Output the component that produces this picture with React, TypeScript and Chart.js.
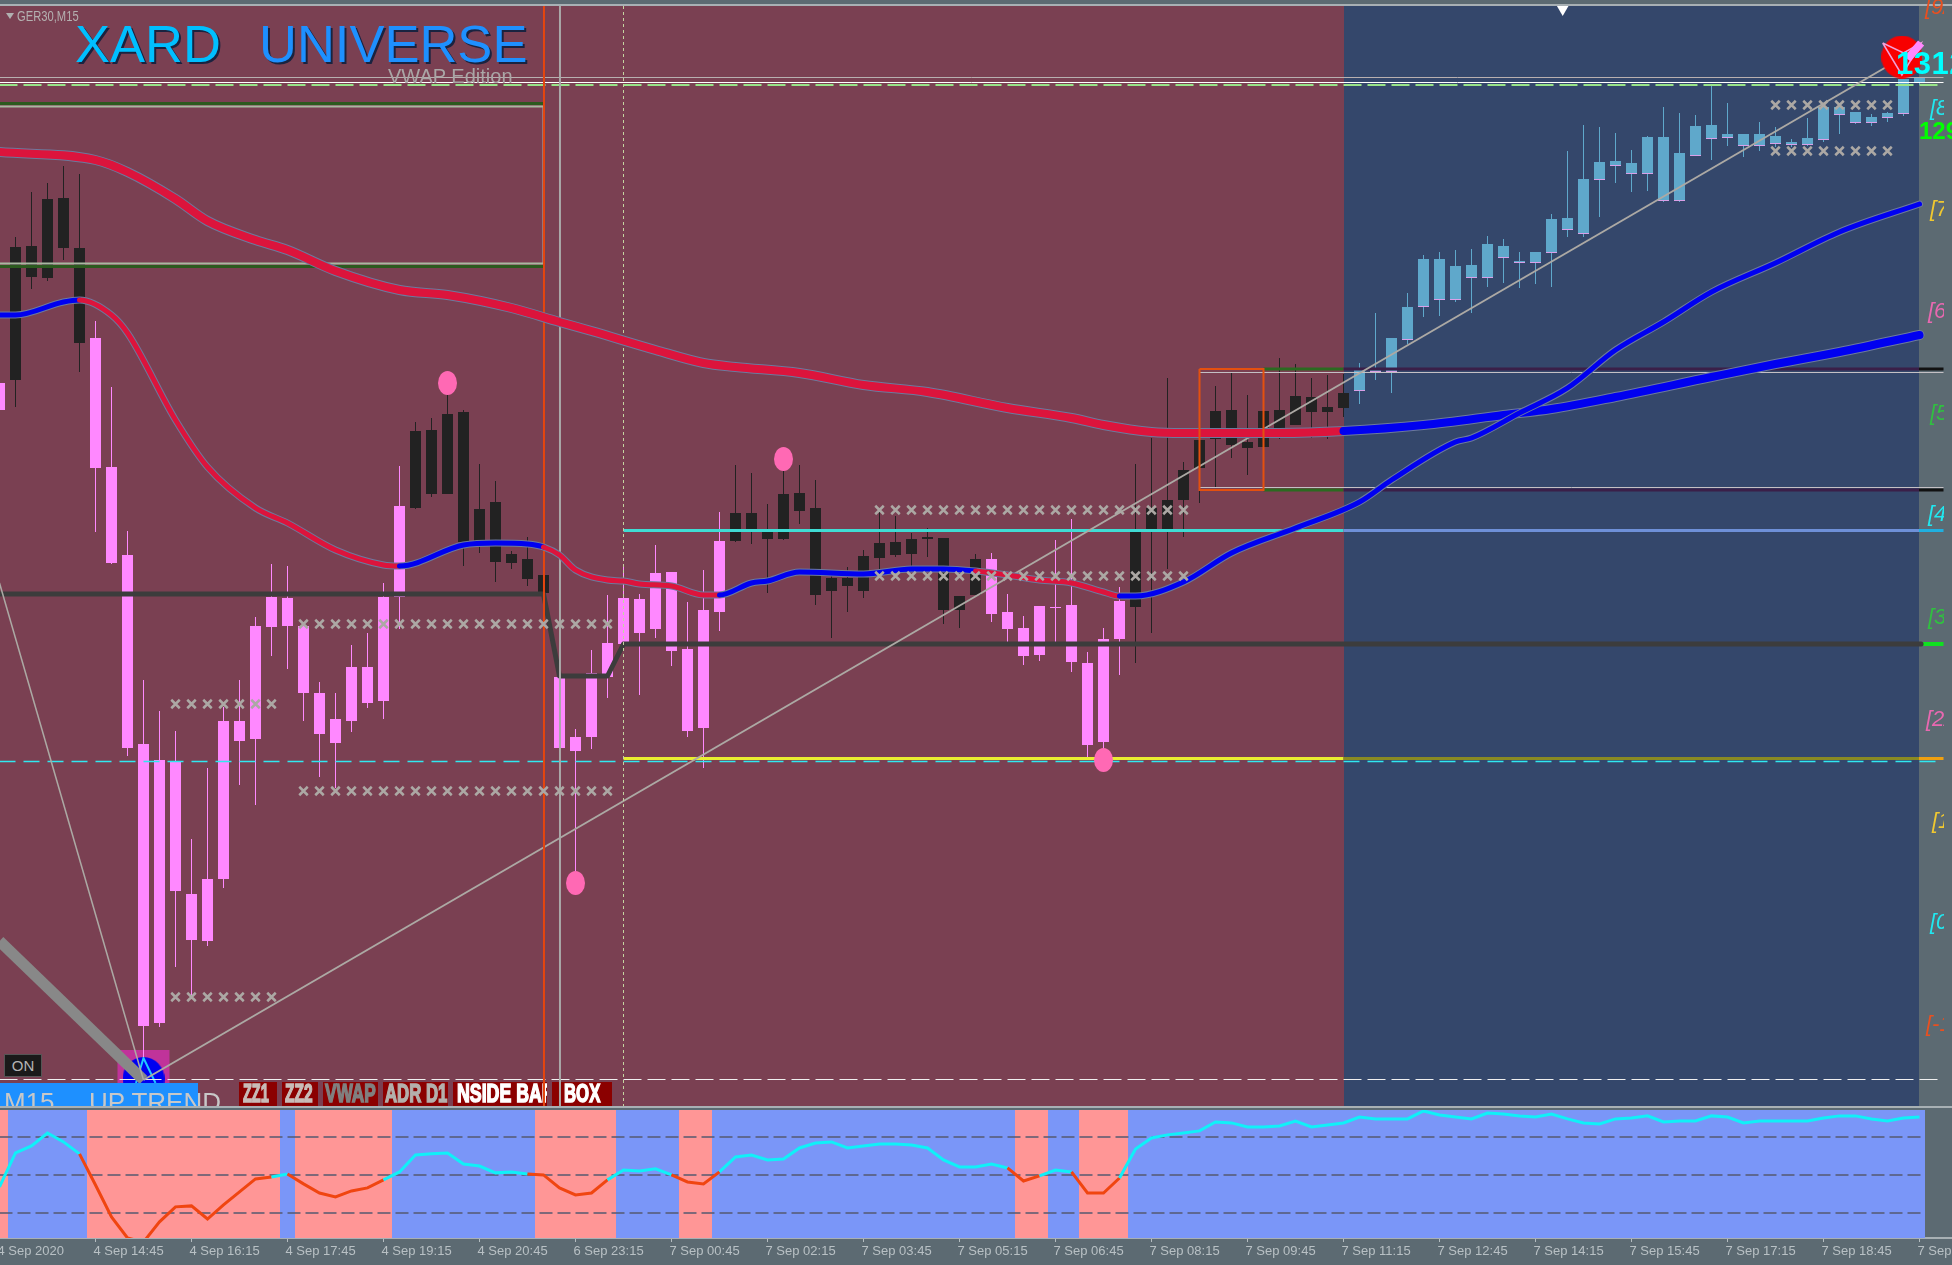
import React, { useEffect, useRef } from "react";
import { Chart, registerables } from "chart.js";

Chart.register(...registerables);

const FONT = '"Liberation Sans", Arial, sans-serif';

// Per-bar prices, bar 0 .. bar 120 (GER30, M15)
const candleHigh = [12820,12963,13008,13017,13034,13026,12879,12813,12669,12520,12489,12469,12361,12432,12493,12520,12583,12636,12634,12574,12518,12507,12555,12567,12617,12734,12778,12782,12805,12790,12736,12719,12649,12663,12625,12532,12471,12550,12605,12633,12606,12655,12628,12598,12630,12688,12735,12727,12696,12732,12735,12720,12627,12633,12650,12692,12684,12667,12672,12662,12604,12646,12647,12606,12584,12594,12660,12681,12548,12572,12613,12736,12762,12822,12738,12760,12814,12827,12805,12789,12842,12836,12822,12825,12826,12837,12887,12862,12907,12945,12948,12950,12951,12964,12961,12948,12948,12986,13049,13075,13073,13067,13050,13064,13093,13087,13085,13116,13097,13066,13078,13073,13061,13082,13093,13093,13088,13086,13088,13121,13123];
const candleTop = [12817,12953,12954,13001,13002,12952,12862,12733,12645,12456,12440,12439,12306,12321,12479,12479,12574,12603,12602,12574,12507,12481,12533,12533,12603,12694,12769,12770,12786,12788,12691,12698,12646,12641,12625,12523,12463,12527,12557,12602,12601,12627,12628,12551,12590,12659,12687,12687,12670,12706,12707,12692,12622,12622,12644,12657,12658,12661,12663,12662,12604,12641,12641,12588,12572,12594,12593,12595,12537,12561,12599,12670,12692,12700,12730,12760,12789,12790,12758,12789,12790,12804,12803,12793,12807,12832,12832,12862,12893,12941,12941,12934,12935,12956,12954,12939,12948,12981,12982,13021,13038,13039,13037,13063,13063,13047,13074,13075,13066,13066,13066,13064,13058,13062,13093,13093,13088,13083,13087,13121,13123];
const candleBottom = [12790,12820,12923,12922,12952,12857,12732,12637,12452,12174,12177,12309,12260,12259,12321,12459,12461,12573,12574,12507,12466,12457,12479,12497,12499,12603,12692,12706,12706,12658,12658,12638,12637,12621,12607,12452,12449,12463,12523,12556,12567,12571,12549,12469,12472,12588,12659,12668,12661,12661,12689,12605,12609,12614,12609,12642,12645,12646,12661,12590,12590,12605,12586,12571,12544,12545,12592,12538,12455,12458,12561,12593,12671,12671,12700,12732,12761,12755,12752,12753,12765,12775,12788,12788,12792,12810,12829,12829,12861,12894,12901,12901,12923,12923,12943,12938,12938,12948,12971,12967,13021,13035,13027,13027,13000,13000,13045,13062,13063,13055,13055,13057,13056,13056,13061,13086,13078,13078,13083,13087,13118];
const candleLow = [12790,12793,12911,12919,12940,12828,12668,12636,12444,12143,12173,12233,12203,12254,12312,12415,12395,12544,12531,12479,12423,12412,12468,12492,12481,12571,12691,12703,12706,12634,12647,12618,12631,12614,12605,12452,12327,12451,12502,12556,12505,12562,12534,12463,12432,12569,12658,12656,12607,12660,12676,12595,12562,12588,12602,12630,12643,12633,12643,12576,12572,12605,12578,12558,12535,12539,12558,12528,12442,12448,12525,12537,12567,12631,12663,12697,12712,12742,12725,12753,12761,12775,12762,12761,12783,12796,12820,12807,12856,12883,12884,12898,12887,12913,12917,12912,12916,12913,12963,12963,12983,13017,13008,13009,12998,12998,13044,13040,13054,13043,13049,13053,13053,13054,13058,13066,13076,13074,13078,13084,13115];

const blackBarRanges = [[1,5],[26,34],[46,61],[71,84]];
const pinkBarRanges = [[0,0],[6,25],[35,45],[62,70]];
const firstBlueBar = 85;

// Moving averages, read at selected bars
const slowMaBars = [0,6,8,11,13,16,18,21,25,28,32,35,37,41,44,46,50,54,58,63,67,69,72,74,78,80,84,89,94,97,101,107,111,115,120];
const slowMaPrice = [13048,13040,13028,13001,12979,12960,12950,12929,12910,12905,12892,12878,12869,12850,12837,12833,12827,12815,12808,12792,12782,12775,12768,12767,12767,12767,12769,12775,12785,12791,12803,12823,12836,12848,12865];
const fastMaBars = [0,1,4,5,7,8,11,13,16,18,21,24,25,29,31,33,34,35,36,38,39,40,42,44,45,47,48,50,54,57,59,61,63,65,67,69,70,71,74,77,81,85,87,91,92,95,98,101,104,107,111,115,120];
const fastMaPrice = [12885,12885,12898,12900,12885,12867,12780,12733,12692,12677,12650,12635,12634,12655,12657,12656,12653,12645,12630,12620,12619,12616,12614,12605,12605,12617,12619,12628,12626,12631,12631,12629,12625,12620,12617,12608,12604,12604,12618,12647,12672,12698,12720,12758,12762,12787,12812,12850,12878,12908,12937,12968,12996];
const fastMaDownRanges = [[5,25],[34,45],[61,70]];
const slowMaLastDownBar = 84;

// Horizontal levels
const upperGrayLevel = 13122.5;
const upperWhiteLevel = 13117.5;
const upperDashLevel = 13115;
const rangeTopDark = 13096.5;
const rangeTopGray = 13093.5;
const rangeBottomGray = 12936.5;
const rangeBottomDark = 12933.5;
const boxTopDark = 12831;
const boxTopGray = 12827.5;
const boxBottomGray = 12712.5;
const boxBottomDark = 12710;
const vwapLevels = [12606, 12524, 12556];
const cyanLevel = 12669.5;
const yellowLevel = 12441.5;
const cyanDashLevel = 12438.5;
const lowerDashLevel = 12120.5;

// Time markers and bar landmarks
const sessionBar = 34;
const crossBar = 35;
const dottedBar = 39;
const boxFirstBar = 75;
const boxLastBar = 79;
const regimeChangeBar = 84;
const panelEndBar = 119.97;
const subPanelEndBar = 120.34;
const marginEndBar = 121.5;
const priceTop = 13200;
const priceBottom = 12092;

// Zigzag
const zigzagLowBar = 9;
const zigzagLowPrice = 12120;
const zigzagHighBar = 119;
const zigzagHighPrice = 13143;
const zigzagPrevPrice = 12617;
const zigzagThickStart = 12259;

// Fractal circles
const fractalBars = [28, 36, 49, 69];
const fractalPrices = [12817, 12317, 12741, 12440];

// Rows of x marks: first bar, last bar, price
const crossRows = [
  [19, 38, 12576],
  [19, 38, 12409],
  [11, 17, 12496],
  [11, 17, 12203],
  [55, 74, 12690],
  [55, 74, 12624],
  [111, 118, 13095],
  [111, 118, 13049],
];

// Oscillator, per bar
const oscillator = [43.7,61.6,65.3,72.1,67.4,61.1,44.7,27.9,16.8,14.7,25.3,33.2,33.7,26.8,34.2,41.1,47.9,48.9,50.5,45.3,40.5,38.4,41.6,43.2,47.4,51.6,60.5,61.1,61.6,55.8,54.7,51.1,51.6,50.5,50,43.2,39.5,40.5,47.4,52.6,52.1,53.2,50,46.3,45.3,51.6,59.5,60.5,57.9,58.4,64.2,66.8,67.4,64.2,65.3,66.3,66.3,65.8,64.2,57.9,54.2,54.2,55.8,53.7,46.8,49.5,52.6,51.6,40.5,40.5,48.4,63.7,69.5,71.1,72.1,73.2,77.9,77.4,75.3,75.3,75.8,78.4,75.3,76.3,77.4,80.5,79.5,79.5,79.5,83.7,81.6,80.5,79.5,82.6,82.1,81.1,80.5,82.1,79.5,77.4,76.8,79.5,80,81.1,77.9,78.4,78.4,81.1,80.5,77.4,78.4,78.4,78.4,78.4,80,81.1,81.1,79.5,78.4,80,80.5];
const oscDownRanges = [[5,17],[18,24],[33,38],[42,45],[63,65],[67,70]];
const regimeDownRanges = [[0,0],[6,17],[19,24],[34,38],[43,44],[64,65],[68,70]];
const oscLevels = [70, 50, 30];
const oscMin = 16.8;
const oscMax = 84.2;

// Time axis
const tickBars = [0,6,12,18,24,30,36,42,48,54,60,66,72,78,84,90,96,102,108,114,120];
const tickLabels = ["4 Sep 2020","4 Sep 14:45","4 Sep 16:15","4 Sep 17:45","4 Sep 19:15","4 Sep 20:45","6 Sep 23:15","7 Sep 00:45","7 Sep 02:15","7 Sep 03:45","7 Sep 05:15","7 Sep 06:45","7 Sep 08:15","7 Sep 09:45","7 Sep 11:15","7 Sep 12:45","7 Sep 14:15","7 Sep 15:45","7 Sep 17:15","7 Sep 18:45","7 Sep 20:15"];

// Overlay texts
const murreyLabels = ["[9/8]","[8/8]","[7/8]","[6/8]","[5/8]","[4/8]","[3/8]","[2/8]","[1/8]","[0/8]","[-1/8]"];
const buttonLabels = ["ZZ1","ZZ2","VWAP","ADR D1","NSIDE BAR","BOX"];

const inRanges = (i: number, rs: number[][]) => rs.some(([a, b]) => i >= a && i <= b);
const sameRange = (i: number, j: number, rs: number[][]) => rs.some(([a, b]) => i >= a && i <= b && j >= a && j <= b);
const allBars = candleHigh.map((_, i) => i);

function sprite(rx: number, ry: number, color: string) {
  const c = document.createElement("canvas");
  c.width = Math.ceil(rx * 2);
  c.height = Math.ceil(ry * 2);
  const g = c.getContext("2d")!;
  g.fillStyle = color;
  g.beginPath();
  g.ellipse(c.width / 2, c.height / 2, rx, ry, 0, 0, Math.PI * 2);
  g.fill();
  return c;
}

function line(points: number[][], color: string, width: number, extra: any = {}) {
  return {
    type: "line",
    data: points.map(([x, y]) => ({ x, y })),
    borderColor: color,
    borderWidth: width,
    pointRadius: 0,
    tension: 0,
    fill: false,
    ...extra,
  };
}

function bars(points: any[], color: any, thickness: number) {
  return {
    type: "bar",
    data: points,
    backgroundColor: color,
    barThickness: thickness,
    grouped: false,
    borderWidth: 0,
    borderSkipped: false,
    inflateAmount: 0,
  };
}

function withOrder(list: any[]) {
  return list.map((d, idx) => ({ ...d, order: list.length - idx }));
}

const xRange = { type: "linear", display: false, offset: false, grid: { offset: false }, min: 0.03125, max: 122.03125 };

export default function App() {
  const mainRef = useRef<HTMLCanvasElement | null>(null);
  const subRef = useRef<HTMLCanvasElement | null>(null);

  useEffect(() => {
    const MAGENTA = "#c0339a";
    const GRAY = "#aca9a4";
    const level = (p: number, a: number, b: number) => [[a, p], [b, p]];
    const vertical = (x: number) => [[x, priceTop - 6], [x, priceBottom + 2]];

    const slowPts = slowMaBars.map((b, i) => [b, slowMaPrice[i]]);
    const fastPts = fastMaBars.map((b, i) => [b, fastMaPrice[i]]);
    const pinkSet = allBars.filter((i) => inRanges(i, pinkBarRanges));
    const blackSet = allBars.filter((i) => inRanges(i, blackBarRanges));
    const blueSet = allBars.filter((i) => i >= firstBlueBar);
    const wick = (set: number[]) => set.map((i) => ({ x: i, y: [candleLow[i], candleHigh[i]] }));
    const body = (set: number[]) => set.map((i) => ({ x: i, y: [candleBottom[i], candleTop[i]] }));

    const crosses = crossRows.flatMap(([a, b, p]) => {
      const out = [];
      for (let i = a; i <= b; i++) out.push({ x: i, y: p });
      return out;
    });
    const smooth = { borderCapStyle: "round", borderJoinStyle: "round", cubicInterpolationMode: "monotone" };

    const mainSets = withOrder([
      bars([{ x: zigzagLowBar, y: [12117, 12150] }], MAGENTA, 52),
      {
        type: "scatter",
        data: [{ x: zigzagLowBar, y: 12121 }],
        pointStyle: sprite(21, 22, "#0000f0"),
        pointRadius: 10,
      },
      line([[8.53, 12117], [9, 12142], [9.75, 12117]], "#20c8ff", 2),
      bars(wick(blackSet), "#222222", 1),
      bars(wick(pinkSet), "#ff88ff", 1),
      bars(wick(blueSet), "#5fa8cb", 1),
      bars(body(blackSet), "#222222", 11),
      bars(body(pinkSet), "#ff88ff", 11),
      bars(body(blueSet), "#5fa8cb", 11),
      bars(blueSet.map((i) => ({ x: i, y: [candleBottom[i] - 1, candleBottom[i]] })), "#d9a0e8", 11),

      line(level(cyanDashLevel, 0, marginEndBar), "#30e8f0", 1.5, { borderDash: [16, 8] }),
      line(level(lowerDashLevel, 0, marginEndBar), "#f0f0f0", 1, { borderDash: [18, 6] }),
      line(level(upperGrayLevel, 0, marginEndBar), "#b8b0b0", 1),
      line(level(upperWhiteLevel, 0, marginEndBar), "#ffffff", 1),
      line(level(upperDashLevel, 0, marginEndBar), "#98e488", 2, { borderDash: [18, 6] }),

      line(level(rangeTopDark, 0, sessionBar), "#2b5a1e", 3),
      line(level(rangeBottomDark, 0, sessionBar), "#2b5a1e", 3),
      line(level(rangeTopGray, 0, sessionBar), "#a8b8a0", 2),
      line(level(rangeBottomGray, 0, sessionBar), "#a8b8a0", 2),
      line([[sessionBar, rangeTopGray], [sessionBar, rangeBottomGray]], "#b0aca8", 2),

      line(level(boxTopDark, boxLastBar, regimeChangeBar), "#2b6a20", 3),
      line(level(boxBottomDark, boxLastBar, regimeChangeBar), "#2b6a20", 3),
      line(level(boxTopDark, regimeChangeBar, panelEndBar), "#3a1f48", 3),
      line(level(boxBottomDark, regimeChangeBar, panelEndBar), "#3a1f48", 3),
      line(level(boxTopDark, panelEndBar, marginEndBar), "#111111", 3),
      line(level(boxBottomDark, panelEndBar, marginEndBar), "#111111", 3),
      line(level(boxTopGray, boxFirstBar, marginEndBar), "#c4c0c4", 1),
      line(level(boxBottomGray, boxFirstBar, marginEndBar), "#c4c0c4", 1),

      line(level(yellowLevel, dottedBar, regimeChangeBar), "#e8ee30", 3),
      line(level(yellowLevel, regimeChangeBar, panelEndBar), "#8a8a22", 3),
      line(level(yellowLevel, panelEndBar, marginEndBar), "#f0a010", 3),
      line(level(cyanLevel, dottedBar, regimeChangeBar), "#3fdcd4", 3),
      line(level(cyanLevel, regimeChangeBar, panelEndBar), "#6e90d8", 3),
      line(level(cyanLevel, panelEndBar, marginEndBar), "#1fb0e0", 3),

      line(level(vwapLevels[2], panelEndBar, marginEndBar), "#10e020", 4),
      line(
        [[0, vwapLevels[0]], [sessionBar, vwapLevels[0]], [crossBar, vwapLevels[1]], [38, vwapLevels[1]], [dottedBar, vwapLevels[2]], [120.1, vwapLevels[2]]],
        "#3c3c3c", 5, { borderCapStyle: "round", borderJoinStyle: "round" }),

      line([[0, zigzagThickStart], [zigzagLowBar, zigzagLowPrice]], "#888888", 11),
      line([[0, zigzagPrevPrice], [zigzagLowBar, zigzagLowPrice]], GRAY, 1.5),
      line([[zigzagLowBar, zigzagLowPrice], [zigzagHighBar, zigzagHighPrice]], GRAY, 2),

      line(vertical(dottedBar), "#c4d4a0", 1, { borderDash: [3, 3] }),
      line(vertical(crossBar + 0.03), "#aaa8a8", 2),
      line(vertical(sessionBar + 0.03), "#e4460f", 2),

      line(slowPts, "#6c7a9e", 10, smooth),
      line(slowPts, "#dc143c", 8, {
        ...smooth,
        segment: { borderColor: (c: any) => (c.p0.parsed.x < slowMaLastDownBar ? "#dc143c" : "#0000f0") },
      }),
      line(fastPts, "#6c7a9e", 7, smooth),
      line(fastPts, "#0000f0", 5, {
        ...smooth,
        segment: { borderColor: (c: any) => (sameRange(c.p0.parsed.x, c.p1.parsed.x, fastMaDownRanges) ? "#dc143c" : "#0000f0") },
      }),

      line(
        [[boxFirstBar, boxTopDark], [boxLastBar, boxTopDark], [boxLastBar, boxBottomDark], [boxFirstBar, boxBottomDark], [boxFirstBar, boxTopDark]],
        "#e4500f", 2),

      {
        type: "scatter",
        data: crosses,
        pointStyle: "crossRot",
        pointRadius: 6,
        pointBorderWidth: 2.5,
        pointBorderColor: "#aca8a4",
        pointBackgroundColor: "#aca8a4",
      },
      {
        type: "scatter",
        data: fractalBars.map((b, i) => ({ x: b, y: fractalPrices[i] })),
        pointStyle: sprite(9.5, 12, "#ff69b4"),
        pointRadius: 10,
      },
      {
        type: "scatter",
        data: [{ x: zigzagHighBar - 0.1, y: zigzagHighPrice }],
        pointStyle: sprite(20.5, 21.5, "#f80000"),
        pointRadius: 10,
      },
      line([[117.7, 13157], [119, 13147], [120.1, 13157], [118.9, 13125], [117.7, 13157]], "#f0a0d8", 1.5),
      line([[120.1, 13157], [119.25, 13141]], "#ff88ff", 8),
      {
        type: "scatter",
        data: [{ x: 97.7, y: 13191 }],
        pointStyle: "triangle",
        rotation: 180,
        pointRadius: 7,
        pointBorderWidth: 0,
        pointBackgroundColor: "#ffffff",
      },
    ]);

    const buttonBox = [[239, 38], [282, 36], [323, 55], [383, 65], [453, 94], [552, 60]];
    const buttonTextLeft = [243, 285, 325, 385, 457, 564];
    const buttonSqueeze = [0.58, 0.62, 0.69, 0.67, 0.71, 0.67];
    const buttonInk = ["#c8bcb8", "#c8bcb8", "#808080", "#b4b0ac", "#ffffff", "#ffffff"];

    const mainBackground = {
      id: "mainBackground",
      beforeDatasetsDraw(chart: any) {
        const { ctx, scales } = chart;
        const x = scales.x;
        const top = Math.round(scales.y.getPixelForValue(priceTop - 6));
        const bottom = Math.round(scales.y.getPixelForValue(priceBottom + 2));
        const b = Math.round(x.getPixelForValue(regimeChangeBar));
        const c = Math.round(x.getPixelForValue(panelEndBar));
        ctx.save();
        ctx.fillStyle = "#7a4052";
        ctx.fillRect(0, top, b, bottom - top);
        ctx.fillStyle = "#34476b";
        ctx.fillRect(b, top, c - b, bottom - top);
        // chart-window buttons, so that the vertical lines pass over them
        buttonLabels.forEach((t, i) => {
          const [l, w] = buttonBox[i];
          ctx.fillStyle = "#8b0000";
          ctx.fillRect(l, 1082, w, 24);
          ctx.save();
          ctx.beginPath();
          ctx.rect(l, 1082, w, 24);
          ctx.clip();
          ctx.translate(buttonTextLeft[i], 1102);
          ctx.scale(buttonSqueeze[i], 1);
          ctx.font = `700 25px ${FONT}`;
          ctx.fillStyle = buttonInk[i];
          ctx.strokeStyle = buttonInk[i];
          ctx.lineWidth = 1.5;
          ctx.textAlign = "left";
          ctx.textBaseline = "alphabetic";
          ctx.fillText(t, 0, 0);
          ctx.strokeText(t, 0, 0);
          ctx.restore();
        });
        ctx.restore();
      },
    };

    const main = new Chart(mainRef.current!, {
      type: "bar",
      data: { datasets: mainSets as any },
      plugins: [mainBackground],
      options: {
        responsive: false,
        animation: false,
        events: [],
        layout: { autoPadding: false, padding: 0 },
        plugins: { legend: { display: false }, title: { display: false }, tooltip: { enabled: false } },
        scales: {
          x: xRange as any,
          y: { type: "linear", display: false, min: priceBottom, max: priceTop },
        },
      } as any,
    });

    const downColor = "#f04510";
    const upColor = "#10f0f8";
    const subSets = withOrder([
      bars(
        allBars.filter((i) => inRanges(i, regimeDownRanges)).map((i) => ({ x: i, y: [oscMin, oscMax] })),
        "#ff9696", 17),
      ...oscLevels.map((v) => line([[0, v], [subPanelEndBar, v]], "#565a70", 1.5, { borderDash: [13, 5] })),
      line(oscillator.map((v, i) => [i, v]), upColor, 3, {
        segment: { borderColor: (c: any) => (sameRange(c.p0.parsed.x, c.p1.parsed.x, oscDownRanges) ? downColor : upColor) },
      }),
    ]);

    const subBackground = {
      id: "subBackground",
      beforeDatasetsDraw(chart: any) {
        const { ctx, chartArea, scales } = chart;
        const right = Math.round(scales.x.getPixelForValue(subPanelEndBar));
        ctx.save();
        ctx.fillStyle = "#7a96f8";
        ctx.fillRect(0, chartArea.top, right, chartArea.bottom - chartArea.top);
        ctx.restore();
      },
    };

    const sub = new Chart(subRef.current!, {
      type: "bar",
      data: { datasets: subSets as any },
      plugins: [subBackground],
      options: {
        responsive: false,
        animation: false,
        events: [],
        layout: { autoPadding: false, padding: { top: 2, left: 0, right: 0, bottom: 0 } },
        plugins: { legend: { display: false }, title: { display: false }, tooltip: { enabled: false } },
        scales: {
          x: {
            type: "linear",
            position: "bottom",
            offset: false,
            min: 0.03125,
            max: 122.03125,
            afterBuildTicks: (s: any) => {
              s.ticks = tickBars.map((v) => ({ value: v }));
            },
            afterFit: (s: any) => {
              s.height = 27;
              s.paddingLeft = 0;
              s.paddingRight = 0;
            },
            grid: { offset: false, drawOnChartArea: false, drawTicks: true, tickLength: 4, color: "#b4bcc0" },
            border: { display: true, color: "#a8b0b4", width: 2 },
            ticks: {
              autoSkip: false,
              maxRotation: 0,
              minRotation: 0,
              align: "start",
              labelOffset: -2,
              padding: 2,
              color: "#b8c0c4",
              font: { family: FONT, size: 13 },
              callback: (v: any) => tickLabels[tickBars.indexOf(Number(v))],
            },
          },
          y: { type: "linear", display: false, min: oscMin, max: oscMax },
        },
      } as any,
    });

    return () => {
      main.destroy();
      sub.destroy();
    };
  }, []);

  const abs = (left: number, top: number, extra: any = {}): any => ({
    position: "absolute",
    left,
    top,
    whiteSpace: "pre",
    fontFamily: FONT,
    lineHeight: 1,
    ...extra,
  });

  const murreyLeft = [1925, 1930, 1930, 1928, 1930, 1928, 1928, 1926, 1932, 1930, 1926];
  const murreyTop = [-4, 97, 198, 300, 402, 503, 606, 708, 810, 911, 1013];
  const murreyColor = ["#e85020", "#20e8f0", "#f0c830", "#e868b0", "#30c040", "#20e8f0", "#30c040", "#e868b0", "#f0c830", "#20e8f0", "#e85020"];

  return (
    <div style={{ position: "absolute", left: 0, top: 0, width: 1952, height: 1265, overflow: "hidden", background: "#5c6a72" }}>
      <canvas ref={mainRef} width={1952} height={1108} style={{ position: "absolute", left: 0, top: 0, width: 1952, height: 1108, display: "block" }} />
      <canvas ref={subRef} width={1952} height={157} style={{ position: "absolute", left: 0, top: 1108, width: 1952, height: 157, display: "block" }} />
      <div style={{ position: "absolute", left: 0, top: 4, width: 1952, height: 2, background: "#a8b0b4" }} />
      <div style={{ position: "absolute", left: 0, top: 1106, width: 1952, height: 2, background: "#a8b0b4" }} />

      <div style={abs(6, 13, { width: 0, height: 0, borderLeft: "4px solid transparent", borderRight: "4px solid transparent", borderTop: "6px solid #b0b0b0" })} />
      <div style={abs(17, 9, { color: "#b4b0b0", fontSize: 14, transform: "scaleX(0.8)", transformOrigin: "left top" })}>GER30,M15</div>
      <div style={abs(75, 18, { color: "#00bfff", fontSize: 52.5, textShadow: "2px 2px 0 #1a2340" })}>XARD</div>
      <div style={abs(259, 18, { color: "#1e90ff", fontSize: 52.5, textShadow: "2px 2px 0 #1a2340" })}>UNIVERSE</div>
      <div style={abs(388, 66, { color: "#aaa6a6", fontSize: 20 })}>VWAP Edition</div>

      <div style={abs(4, 1054, { width: 38, height: 23, boxSizing: "border-box", background: "#1a1a1a", border: "1px solid #555", color: "#b4b4b4", fontSize: 15, textAlign: "center", paddingTop: 3 })}>ON</div>

      <div style={{ position: "absolute", left: 0, top: 1083, width: 240, height: 23, overflow: "hidden" }}>
        <div style={abs(0, 0, { width: 198, height: 23, background: "#1e90ff" })} />
        <div style={abs(4, 6, { color: "#c8c8c8", fontSize: 26 })}>M15</div>
        <div style={abs(89, 6, { color: "#c8c8c8", fontSize: 26 })}>UP TREND</div>
      </div>

      <div style={{ position: "absolute", left: 1920, top: 0, width: 24, height: 1108, overflow: "hidden" }}>
        {murreyLabels.map((t, i) => (
          <div key={t} style={abs(murreyLeft[i] - 1920, murreyTop[i], { color: murreyColor[i], fontStyle: "italic", fontSize: 22 })}>{t}</div>
        ))}
      </div>

      <div style={abs(1896, 48, { color: "#00ffff", fontSize: 31, fontWeight: 700, letterSpacing: 0.5 })}>1312</div>
      <div style={abs(1919, 119, { color: "#00ff00", fontSize: 24, fontWeight: 700 })}>1295</div>
    </div>
  );
}
